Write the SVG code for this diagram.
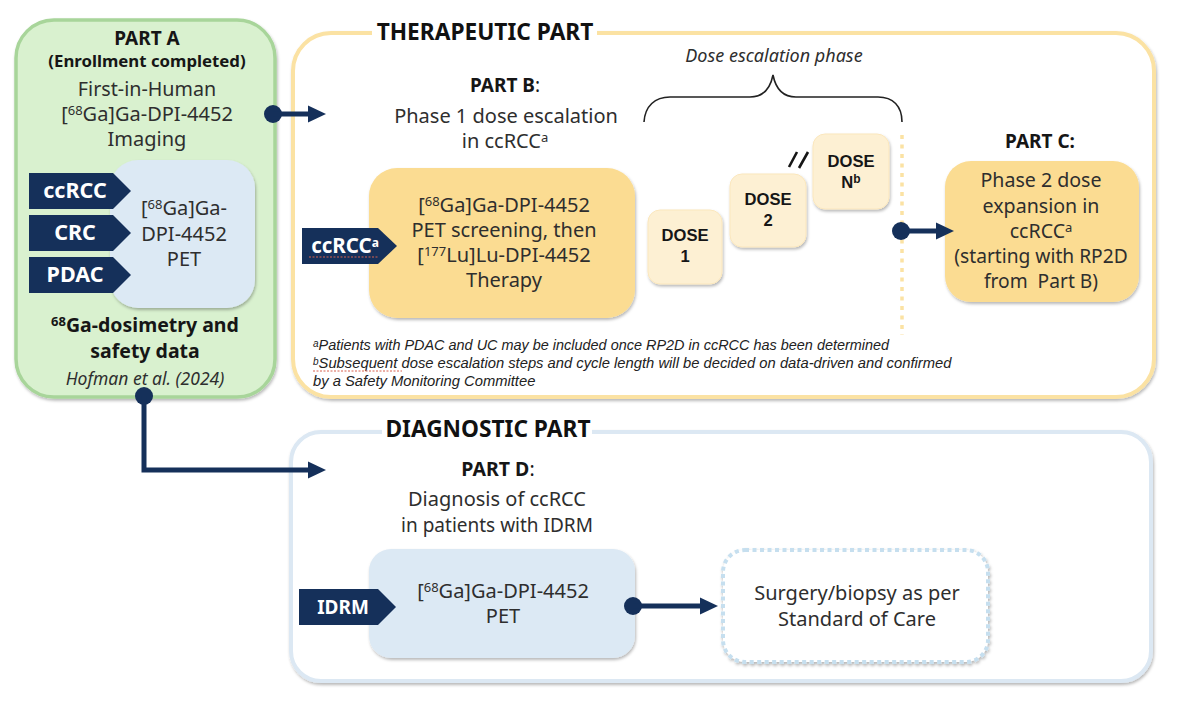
<svg xmlns="http://www.w3.org/2000/svg" width="1200" height="704" viewBox="0 0 1200 704">
<style>
text{font-family:"Noto Sans","Open Sans","Liberation Sans",sans-serif;text-anchor:middle;fill:#2e2e2e;font-size:20px}
.b{font-weight:700;fill:#161616;font-size:19px}
.tag{fill:#fff;font-weight:700;font-size:21.5px}
.head{font-weight:700;fill:#111;font-size:22.7px}
.dose{font-family:"Liberation Sans",Arial,sans-serif;font-weight:700;fill:#161616;font-size:16.6px}
.note{font-family:"Liberation Sans",Arial,sans-serif;font-style:italic;font-size:14.77px;text-anchor:start;fill:#222}
.shape{filter:url(#sh)}
.navy{fill:#15305a}
.conn{fill:none;stroke:#15305a;stroke-width:5}
.sq{fill:none;stroke:#d8604f;stroke-width:1;stroke-dasharray:2 1.5}
</style>
<defs>
<filter id="sh" x="-10%" y="-10%" width="120%" height="120%"><feDropShadow dx="1" dy="2" stdDeviation="1.6" flood-color="#000" flood-opacity="0.28"/></filter>
<marker id="ah" markerUnits="userSpaceOnUse" markerWidth="18" markerHeight="18" refX="0" refY="9" orient="auto"><path d="M0 0.5L18 9L0 17.5Z" fill="#15305a"/></marker>
<path id="tagshape" d="M0 0H84L102 18L84 36H0Z"/>
</defs>
<rect width="1200" height="704" fill="#fff"/>

<g id="therapeutic-part">
<rect x="293" y="33" width="861" height="364" rx="38" fill="#fff" stroke="#fbe2a3" stroke-width="4" class="shape"/>
<rect x="372" y="20" width="225" height="24" fill="#fff"/>
<text x="485" y="40" class="head">THERAPEUTIC PART</text>
</g>
<g id="diagnostic-part">
<rect x="291" y="432" width="860" height="249" rx="30" fill="#fff" stroke="#dce8f3" stroke-width="4" class="shape"/>
<rect x="382" y="420" width="210" height="22" fill="#fff"/>
<text x="488" y="437" class="head">DIAGNOSTIC PART</text>
</g>

<g id="part-a">
<rect x="16" y="20" width="259" height="377" rx="38" fill="#d9f1cf" stroke="#a8d59a" stroke-width="3.5" class="shape"/>
<text x="147" y="45" class="b">PART A</text>
<text x="147" y="67" class="b" style="font-size:16.8px">(Enrollment completed)</text>
<text x="147" y="96" style="font-size:19.7px">First-in-Human</text>
<text x="147" y="121">[<tspan dy="-6" font-size="13">68</tspan><tspan dy="6">Ga]Ga-DPI-4452</tspan></text>
<text x="147" y="146">Imaging</text>
<text x="145" y="332" class="b" style="font-size:19.5px"><tspan dy="-6" font-size="13">68</tspan><tspan dy="6">Ga-dosimetry and</tspan></text>
<text x="145" y="358" class="b" style="font-size:19.5px">safety data</text>
<text x="145" y="385" style="font-style:italic;font-size:17.5px">Hofman et al. (2024)</text>
</g>
<g id="part-a-pet">
<rect x="110" y="160" width="145" height="148" rx="28" fill="#dce9f4" class="shape"/>
<text x="184" y="215">[<tspan dy="-6" font-size="13">68</tspan><tspan dy="6">Ga]Ga-</tspan></text>
<text x="184" y="241">DPI-4452</text>
<text x="184" y="266">PET</text>
</g>
<g id="tag-ccrcc"><use href="#tagshape" x="29" y="173" class="navy"/><text x="75" y="198" class="tag">ccRCC</text></g>
<g id="tag-crc"><use href="#tagshape" x="29" y="215" class="navy"/><text x="75" y="240" class="tag">CRC</text></g>
<g id="tag-pdac"><use href="#tagshape" x="29" y="257" class="navy"/><text x="75" y="282" class="tag">PDAC</text></g>

<g id="part-b-title">
<text x="505" y="92" class="b">PART B<tspan font-weight="400">:</tspan></text>
<text x="506" y="123">Phase 1 dose escalation</text>
<text x="505" y="148">in ccRCC<tspan dy="-6" font-size="13">a</tspan></text>
</g>
<g id="part-b">
<rect x="369" y="168" width="266" height="150" rx="28" fill="#fbdc92" class="shape"/>
<text x="504" y="212">[<tspan dy="-6" font-size="13">68</tspan><tspan dy="6">Ga]Ga-DPI-4452</tspan></text>
<text x="504" y="237">PET screening, then</text>
<text x="504" y="262">[<tspan dy="-6" font-size="13">177</tspan><tspan dy="6">Lu]Lu-DPI-4452</tspan></text>
<text x="504" y="287">Therapy</text>
</g>
<g id="tag-ccrcc-a">
<path d="M302 228H378L397 246L378 264H302Z" class="navy"/>
<text x="345" y="253" class="tag" style="font-size:20.5px">ccRCC<tspan dy="-6" font-size="12">a</tspan></text>
<path d="M309 257H378" class="sq"/>
</g>
<g id="dose-1">
<rect x="648" y="210" width="74" height="74" rx="12" fill="#fdf0d3" stroke="#fbe7bd" class="shape"/>
<text x="685" y="241" class="dose">DOSE</text><text x="685" y="262" class="dose">1</text>
</g>
<g id="dose-2">
<rect x="730" y="174" width="76" height="73" rx="12" fill="#fdf0d3" stroke="#fbe7bd" class="shape"/>
<text x="768" y="205" class="dose">DOSE</text><text x="768" y="226" class="dose">2</text>
</g>
<g id="dose-n">
<rect x="813" y="134" width="76" height="75" rx="12" fill="#fdf0d3" stroke="#fbe7bd" class="shape"/>
<text x="851" y="167" class="dose">DOSE</text><text x="851" y="188" class="dose">N<tspan dy="-5" font-size="12">b</tspan></text>
</g>
<g id="breaks" stroke="#161616" stroke-width="2.6" fill="none"><path d="M789 167L797 152M799 168L808 152"/></g>
<g id="dose-escalation">
<text x="774" y="62" style="font-style:italic;font-size:18px">Dose escalation phase</text>
<path d="M644 122C645 106 655 97 670 97H750C762 97 770 90 773 75C776 90 784 97 796 97H878C893 97 902 106 902 122" fill="none" stroke="#222" stroke-width="1.6"/>
<path d="M902 135V335" fill="none" stroke="#fbe2a3" stroke-width="3.5" stroke-dasharray="4 5.5"/>
</g>
<g id="part-c">
<text x="1040" y="148" class="b">PART C:</text>
<rect x="945" y="161" width="194" height="141" rx="26" fill="#fbdc92" class="shape"/>
<text x="1041" y="187" style="font-size:19.6px">Phase 2 dose</text>
<text x="1041" y="213" style="font-size:19.6px">expansion in</text>
<text x="1041" y="238" style="font-size:19.6px">ccRCC<tspan dy="-6" font-size="13">a</tspan></text>
<text x="1041" y="263" style="font-size:19.2px">(starting with RP2D</text>
<text x="1041" y="288" style="font-size:19.2px" xml:space="preserve">from  Part B)</text>
</g>
<g id="notes">
<text x="313" y="350" class="note" style="font-size:14.45px"><tspan dy="-3" font-size="10">a</tspan><tspan dy="3">Patients with PDAC and UC may be included once RP2D in ccRCC has been determined</tspan></text>
<text x="313" y="368" class="note"><tspan dy="-3" font-size="10">b</tspan><tspan dy="3">Subsequent dose escalation steps and cycle length will be decided on data-driven and confirmed</tspan></text>
<text x="313" y="386" class="note">by a Safety Monitoring Committee</text>
<path d="M313 371H402" class="sq"/>
</g>

<g id="part-d-title">
<text x="498" y="476" class="b" style="font-size:19.5px">PART D<tspan font-weight="400">:</tspan></text>
<text x="497" y="506">Diagnosis of ccRCC</text>
<text x="497" y="532" style="font-size:19px">in patients with IDRM</text>
</g>
<g id="part-d">
<rect x="369" y="549" width="266" height="109" rx="22" fill="#dce9f4" class="shape"/>
<text x="503" y="598">[<tspan dy="-6" font-size="13">68</tspan><tspan dy="6">Ga]Ga-DPI-4452</tspan></text>
<text x="503" y="623">PET</text>
</g>
<g id="tag-idrm">
<path d="M299 589H378L396 607L378 625H299Z" class="navy"/>
<text x="343" y="614" class="tag" style="font-size:19px">IDRM</text>
</g>
<g id="surgery">
<rect x="723" y="550" width="265" height="112" rx="22" fill="#fff" stroke="#c6dfef" stroke-width="4" stroke-dasharray="4 3.5" class="shape"/>
<text x="857" y="600">Surgery/biopsy as per</text>
<text x="857" y="626">Standard of Care</text>
</g>

<g id="connectors">
<circle cx="273" cy="114" r="9" class="navy"/>
<path d="M273 114H308" class="conn" marker-end="url(#ah)"/>
<circle cx="144" cy="396" r="9" class="navy"/>
<path d="M144 396V470H308" class="conn" marker-end="url(#ah)"/>
<circle cx="901" cy="231" r="9" class="navy"/>
<path d="M901 231H936" class="conn" marker-end="url(#ah)"/>
<circle cx="633" cy="606" r="9" class="navy"/>
<path d="M633 606H700" class="conn" marker-end="url(#ah)"/>
</g>
</svg>
